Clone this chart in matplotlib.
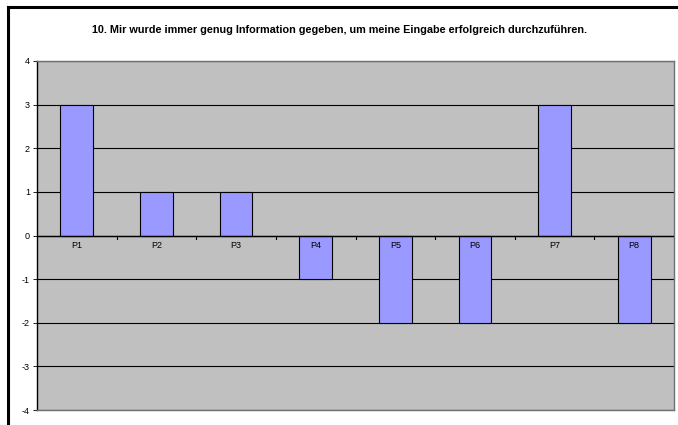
import matplotlib
matplotlib.use('Agg')
import matplotlib.pyplot as plt
import numpy as np

plt.rcParams['font.family'] = ['Liberation Sans', 'DejaVu Sans']

# Antworten pro Person
categories = ['P1', 'P2', 'P3', 'P4', 'P5', 'P6', 'P7', 'P8']
values = [3, 1, 1, -1, -2, -2, 3, -2]
y_ticks = [-4, -3, -2, -1, 0, 1, 2, 3, 4]
title = '10. Mir wurde immer genug Information gegeben, um meine Eingabe erfolgreich durchzuführen.'

fig = plt.figure(figsize=(6.78, 4.25), dpi=100)
ax = fig.add_axes([37 / 678, 15 / 425, 637 / 678, 349 / 425])
ax.set_facecolor('#C0C0C0')

x = np.arange(len(categories))
ax.bar(x, values, width=0.41, color='#9999FF', edgecolor='black', linewidth=0.8, zorder=3)

ax.set_xlim(-0.5, len(categories) - 0.5)
ax.set_ylim(-4, 4)
ax.set_yticks(y_ticks)
ax.set_yticklabels([str(v) for v in y_ticks], fontsize=6.5)
ax.yaxis.grid(True, color='black', linewidth=0.8, zorder=1)
ax.tick_params(axis='y', length=3, width=0.6, pad=2, colors='black')

# Kategorien an der Nulllinie
ax.set_xticks([])
for xi, lab in zip(x, categories):
    ax.text(xi, -0.12, lab, ha='center', va='top', fontsize=6.5, zorder=4)
ax.axhline(0, color='black', linewidth=1, zorder=4)
for b in np.arange(0.5, len(categories), 1.0):
    ax.plot([b, b], [0, -0.08], color='black', linewidth=0.8, zorder=4)

for side in ['top', 'right', 'bottom']:
    ax.spines[side].set_color('#707070')
    ax.spines[side].set_linewidth(1)
ax.spines['left'].set_color('black')
ax.spines['left'].set_linewidth(1)

fig.text(340 / 678, 1 - 30 / 425, title, ha='center', va='center', fontsize=7.85, fontweight='bold')

# Rahmen oben und links
fig.add_artist(plt.Line2D([8 / 678, 1], [1 - 6.5 / 425, 1 - 6.5 / 425], color='black', linewidth=2.2))
fig.add_artist(plt.Line2D([8 / 678, 8 / 678], [0, 1 - 6.5 / 425], color='black', linewidth=2.2))

fig.savefig('out.png', dpi=100)
